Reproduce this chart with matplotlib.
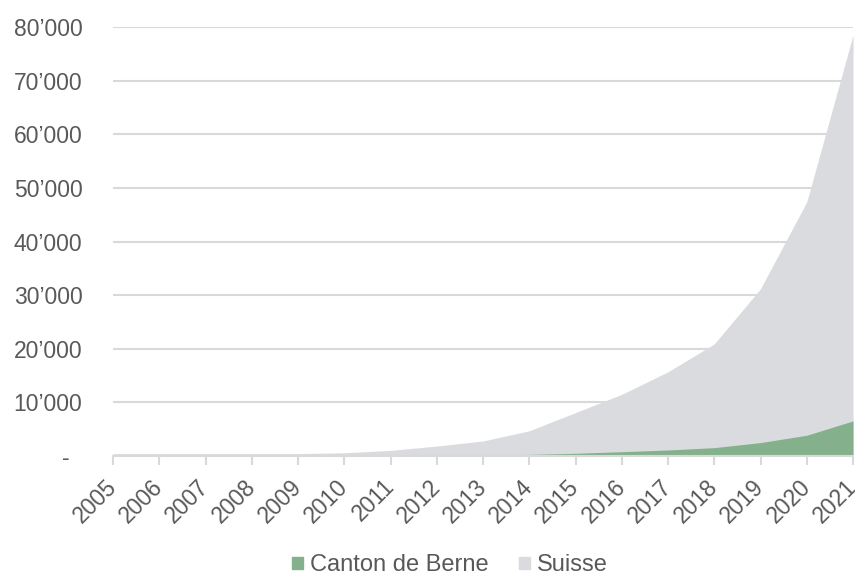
import numpy as np
import matplotlib.pyplot as plt
from matplotlib.patches import Patch
from matplotlib.ticker import FuncFormatter

plt.rcParams['font.family'] = ['Liberation Sans', 'DejaVu Sans']

# Données annuelles
years = list(range(2005, 2022))
suisse = [450, 450, 450, 450, 450, 600, 1050, 1850, 2800, 4700, 8100,
          11500, 15700, 20900, 31200, 47400, 78500]
berne = [50, 50, 50, 50, 50, 60, 80, 100, 150, 300, 500,
         800, 1120, 1560, 2500, 3870, 6550]

text_color = '#595959'
green = '#84b18b'
grey = '#d9dbde'

fig = plt.figure(figsize=(8.55, 5.77), dpi=100)
ax = fig.add_axes([0.1322, 0.2097, 0.8655, 0.7435])

ax.fill_between(years, suisse, color=grey, lw=0, zorder=2)
ax.fill_between(years, berne, color=green, lw=0, zorder=3)

ax.set_xlim(2005, 2021)
ax.set_ylim(0, 80000)
ax.set_yticks(np.arange(0, 80001, 10000))
ax.yaxis.set_major_formatter(FuncFormatter(
    lambda v, p: '-  ' if v == 0 else f"{int(v):,}".replace(',', '\u2019')))
ax.grid(axis='y', color='#d9d9d9', lw=1.5, zorder=1)
ax.set_axisbelow(True)

ax.set_xticks(years)
ax.set_xticklabels([str(y) for y in years], rotation=45, ha='right',
                   rotation_mode='anchor', va='center')

for s in ['top', 'right', 'left']:
    ax.spines[s].set_visible(False)
ax.spines['bottom'].set_color('#d9d9d9')
ax.spines['bottom'].set_linewidth(1.5)
ax.spines['bottom'].set_zorder(4)

ax.tick_params(axis='y', length=0, pad=22, labelsize=16.5, labelcolor=text_color)
ax.tick_params(axis='x', length=6.5, width=1.5, color='#d9d9d9', pad=13,
               labelsize=16.5, labelcolor=text_color)

handles = [Patch(color=green, label='Canton de Berne'),
           Patch(color=grey, label='Suisse')]
fig.legend(handles=handles, loc='center', bbox_to_anchor=(0.526, 0.02), ncol=2,
           frameon=False, fontsize=17, labelcolor=text_color,
           handlelength=0.45, handleheight=0.45, handletextpad=0.3, columnspacing=1.3)

fig.savefig('out.png', dpi=100)
